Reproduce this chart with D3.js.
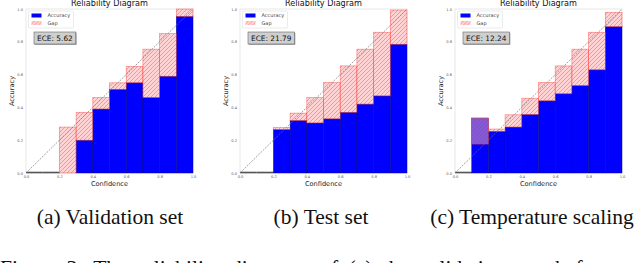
<!DOCTYPE html>
<html>
<head>
<meta charset="utf-8">
<script src="https://cdn.jsdelivr.net/npm/d3@7"></script>
<style>
  body { margin: 0; background: #fff; }
  svg { display: block; }
</style>
</head>
<body>
<div id="chart"></div>
<script>
// bins of width 0.1, lower edges
var binEdges = [0, 0.1, 0.2, 0.3, 0.4, 0.5, 0.6, 0.7, 0.8, 0.9];
var tickValues = [0, 0.2, 0.4, 0.6, 0.8, 1.0];

// accuracy per bin (null = empty bin), and mean confidence per bin (gap top)
var accValid = [null, null, 0, 0.20, 0.39, 0.51, 0.55, 0.46, 0.59, 0.955];
var confValid = [null, null, 0.28, 0.37, 0.46, 0.55, 0.65, 0.755, 0.85, 1.0];

var accTest = [null, null, 0.265, 0.32, 0.305, 0.33, 0.37, 0.42, 0.47, 0.785];
var confTest = [null, null, 0.277, 0.365, 0.46, 0.552, 0.653, 0.755, 0.858, 0.994];

var accTemp = [null, 0.335, 0.254, 0.28, 0.357, 0.44, 0.483, 0.533, 0.629, 0.892];
var confTemp = [null, 0.176, 0.268, 0.355, 0.456, 0.552, 0.653, 0.755, 0.858, 0.98];

var eceLabels = ["ECE: 5.62", "ECE: 21.79", "ECE: 12.24"];
var captions = ["(a) Validation set", "(b) Test set", "(c) Temperature scaling"];
var captionCenters = [110, 321, 532];

var panels = [
  {acc: accValid, conf: confValid, left: 26},
  {acc: accTest, conf: confTest, left: 240},
  {acc: accTemp, conf: confTemp, left: 455}
];

var W = 640, H = 263;
var plotW = 167, plotTop = 9, plotBottom = 173;

var svg = d3.select("#chart").append("svg")
  .attr("width", W)
  .attr("height", H);

var defs = svg.append("defs");
var hatch = defs.append("pattern")
  .attr("id", "hatch")
  .attr("patternUnits", "userSpaceOnUse")
  .attr("width", 4)
  .attr("height", 4);
hatch.append("path")
  .attr("d", "M-1,1 l2,-2 M0,4 l4,-4 M3,5 l2,-2")
  .attr("stroke", "#ff2020")
  .attr("stroke-opacity", 0.5)
  .attr("stroke-width", 0.7);

panels.forEach(function(p, k) {
  var x = d3.scaleLinear().domain([0, 1]).range([p.left, p.left + plotW]);
  var y = d3.scaleLinear().domain([0, 1]).range([plotBottom, plotTop]);
  var g = svg.append("g");
  var bw = x(0.1) - x(0);

  // frame
  g.append("rect")
    .attr("x", x(0)).attr("y", y(1))
    .attr("width", plotW).attr("height", plotBottom - plotTop)
    .attr("fill", "none")
    .attr("stroke", "#e2e2e2")
    .attr("stroke-width", 0.8);

  // tick labels
  var yAxis = d3.axisLeft(y).tickValues(tickValues).tickSize(0).tickPadding(3).tickFormat(d3.format(".1f"));
  var xAxis = d3.axisBottom(x).tickValues(tickValues).tickSize(0).tickPadding(2).tickFormat(d3.format(".1f"));
  var ya = g.append("g").attr("transform", "translate(" + x(0) + ",0)").call(yAxis);
  var xa = g.append("g").attr("transform", "translate(0," + plotBottom + ")").call(xAxis);
  [ya, xa].forEach(function(a) {
    a.select(".domain").remove();
    a.selectAll("text")
      .attr("font-family", "DejaVu Sans")
      .attr("font-size", 3.6)
      .attr("fill", "#555");
  });

  var bins = binEdges.map(function(b, i) {
    return {x0: b, acc: p.acc[i], conf: p.conf[i]};
  });

  // empty bins drawn as dark bottom line
  g.selectAll(".empty").data(bins.filter(function(d) { return d.acc === null; }))
    .enter().append("line")
    .attr("x1", function(d) { return x(d.x0); })
    .attr("x2", function(d) { return x(d.x0 + 0.1); })
    .attr("y1", y(0) - 0.5).attr("y2", y(0) - 0.5)
    .attr("stroke", "#555")
    .attr("stroke-width", 1.6);

  var filled = bins.filter(function(d) { return d.acc !== null; });

  // accuracy bars
  g.selectAll(".acc").data(filled).enter().append("rect")
    .attr("x", function(d) { return x(d.x0); })
    .attr("y", function(d) { return y(d.acc); })
    .attr("width", bw)
    .attr("height", function(d) { return y(0) - y(d.acc); })
    .attr("fill", "#0000ff")
    .attr("stroke", "#00006a")
    .attr("stroke-width", 0.4);

  // gap bars
  var gaps = g.selectAll(".gap").data(filled).enter().append("g");
  gaps.append("rect")
    .attr("x", function(d) { return x(d.x0); })
    .attr("y", function(d) { return y(Math.max(d.acc, d.conf)); })
    .attr("width", bw)
    .attr("height", function(d) { return Math.abs(y(d.acc) - y(d.conf)); })
    .attr("fill", "rgb(255,170,170)")
    .attr("fill-opacity", 0.52);
  gaps.append("rect")
    .attr("x", function(d) { return x(d.x0); })
    .attr("y", function(d) { return y(Math.max(d.acc, d.conf)); })
    .attr("width", bw)
    .attr("height", function(d) { return Math.abs(y(d.acc) - y(d.conf)); })
    .attr("fill", "url(#hatch)")
    .attr("stroke", "#ff3030")
    .attr("stroke-opacity", 0.55)
    .attr("stroke-width", 0.7);

  // diagonal
  g.append("line")
    .attr("x1", x(0)).attr("y1", y(0))
    .attr("x2", x(1)).attr("y2", y(1))
    .attr("stroke", "#777")
    .attr("stroke-width", 0.7)
    .attr("stroke-dasharray", "2,1.2");

  // title and axis labels
  g.append("text")
    .attr("x", x(0.5)).attr("y", 6.3)
    .attr("text-anchor", "middle")
    .attr("font-family", "DejaVu Sans")
    .attr("font-size", 8.1)
    .attr("fill", "#111")
    .text("Reliability Diagram");
  g.append("text")
    .attr("x", x(0.5)).attr("y", 186)
    .attr("text-anchor", "middle")
    .attr("font-family", "DejaVu Sans")
    .attr("font-size", 6.6)
    .attr("fill", "#222")
    .text("Confidence");
  g.append("text")
    .attr("transform", "translate(" + (x(0) - 12) + "," + y(0.5) + ") rotate(-90)")
    .attr("text-anchor", "middle")
    .attr("font-family", "DejaVu Sans")
    .attr("font-size", 6.6)
    .attr("fill", "#222")
    .text("Accuracy");

  // legend
  var lg = g.append("g").attr("transform", "translate(" + (x(0) + 2.5) + "," + (plotTop + 2) + ")");
  lg.append("rect")
    .attr("width", 45).attr("height", 17).attr("rx", 1)
    .attr("fill", "#fff")
    .attr("stroke", "#ddd")
    .attr("stroke-width", 0.6);
  lg.append("rect").attr("x", 3).attr("y", 2.5).attr("width", 10).attr("height", 4).attr("fill", "#0000ff");
  lg.append("rect").attr("x", 3).attr("y", 10).attr("width", 10).attr("height", 4)
    .attr("fill", "rgb(255,170,170)").attr("fill-opacity", 0.52);
  lg.append("rect").attr("x", 3).attr("y", 10).attr("width", 10).attr("height", 4)
    .attr("fill", "url(#hatch)");
  lg.append("text").attr("x", 19).attr("y", 6.3)
    .attr("font-family", "DejaVu Sans").attr("font-size", 5).attr("fill", "#444").text("Accuracy");
  lg.append("text").attr("x", 19).attr("y", 14)
    .attr("font-family", "DejaVu Sans").attr("font-size", 5).attr("fill", "#444").text("Gap");

  // ECE box
  var eg = g.append("g").attr("transform", "translate(" + (x(0) + 8) + "," + (plotTop + 23) + ")");
  var et = eg.append("text").attr("x", 3).attr("y", 9)
    .attr("font-family", "DejaVu Sans").attr("font-size", 7.4).attr("fill", "#111")
    .text(eceLabels[k]);
  var tw = et.node().getComputedTextLength();
  eg.insert("rect", "text")
    .attr("x", 0.8).attr("y", 0.8)
    .attr("width", tw + 6).attr("height", 12)
    .attr("fill", "#999");
  eg.insert("rect", "text")
    .attr("width", tw + 6).attr("height", 12)
    .attr("fill", "#cfcfcf")
    .attr("stroke", "#666")
    .attr("stroke-width", 0.6);

  // caption
  svg.append("text")
    .attr("x", captionCenters[k]).attr("y", 224)
    .attr("text-anchor", "middle")
    .attr("font-family", "Liberation Serif")
    .attr("font-size", 21.5)
    .attr("fill", "#111")
    .text(captions[k]);
});

svg.append("text")
  .attr("x", 0).attr("y", 275)
  .attr("font-family", "Liberation Serif")
  .attr("font-size", 21.5)
  .attr("word-spacing", 5)
  .attr("fill", "#111")
  .text("Figure 3: The reliability diagrams of (a) the validation set, before temperature scaling,");
</script>
</body>
</html>
